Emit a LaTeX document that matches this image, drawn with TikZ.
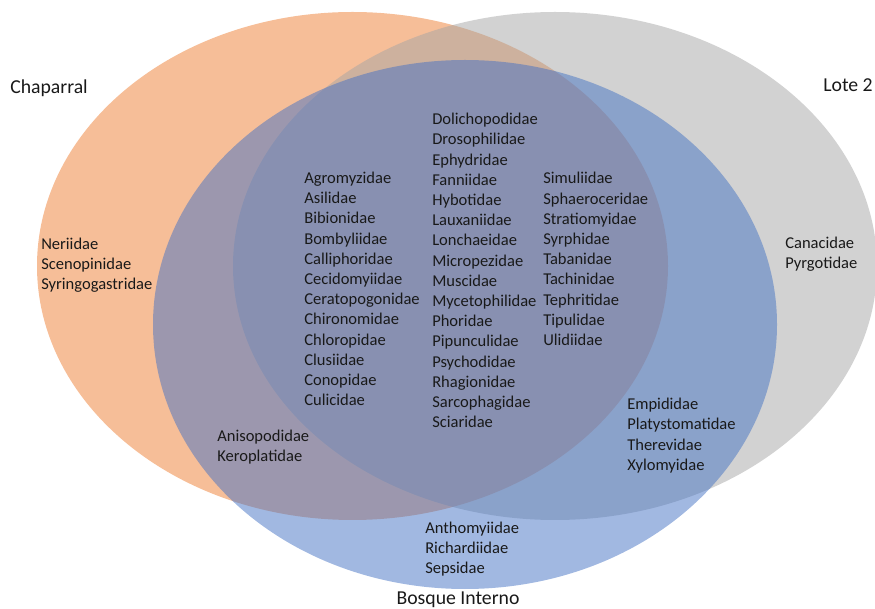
\documentclass[tikz,border=0pt]{standalone}
\usepackage{fontspec}
\setmainfont{Carlito}
\usepackage{xcolor}
\usepackage{tikz}
\definecolor{chaparral}{HTML}{ED7D31}
\definecolor{lote}{HTML}{A5A5A5}
\definecolor{bosque}{HTML}{4472C4}
\tikzset{
  setarea/.style={fill opacity=0.5},
  famlist/.style={anchor=west,align=left,inner sep=0pt,text=black!90,font=\fontsize{12.4}{15.15}\selectfont},
  setname/.style={inner sep=0pt,text=black!90,font=\fontsize{14.8}{17}\selectfont}
}

\begin{document}
\begin{tikzpicture}[x=0.75pt,y=-0.75pt]
        \useasboundingbox (0,0) rectangle (875,609);

        % the three sets
        \fill[chaparral,setarea] (352.5,266) ellipse (315.5 and 254);
        \fill[lote,setarea] (555,266) ellipse (322 and 254);
        \fill[bosque,setarea] (465,324.5) ellipse (312 and 264.5);

        % set names
        \node[setname,anchor=west] (chaparral) at (10,88) {Chaparral};
        \node[setname,anchor=east] (lote) at (873,85) {Lote 2};
        \node[setname] (bosque) at (458,600) {Bosque Interno};

        % only one set
        \node[famlist] (onlych) at (41,265) {Neriidae\\Scenopinidae\\Syringogastridae};
        \node[famlist] (onlylo) at (785,254) {Canacidae\\Pyrgotidae};
        \node[famlist] (onlybo) at (425,549) {Anthomyiidae\\Richardiidae\\Sepsidae};

        % two sets
        \node[famlist] (chbo) at (217,447) {Anisopodidae\\Keroplatidae};
        \node[famlist] (lobo) at (627,435.5) {Empididae\\Platystomatidae\\Therevidae\\Xylomyidae};

        % all three
        \node[famlist] (allA) at (304,289) {Agromyzidae\\Asilidae\\Bibionidae\\Bombyliidae\\Calliphoridae\\Cecidomyiidae\\Ceratopogonidae\\Chironomidae\\Chloropidae\\Clusiidae\\Conopidae\\Culicidae};
        \node[famlist] (allB) at (432,270.5) {Dolichopodidae\\Drosophilidae\\Ephydridae\\Fanniidae\\Hybotidae\\Lauxaniidae\\Lonchaeidae\\Micropezidae\\Muscidae\\Mycetophilidae\\Phoridae\\Pipunculidae\\Psychodidae\\Rhagionidae\\Sarcophagidae\\Sciaridae};
        \node[famlist] (allC) at (543,259) {Simuliidae\\Sphaeroceridae\\Stratiomyidae\\Syrphidae\\Tabanidae\\Tachinidae\\Tephritidae\\Tipulidae\\Ulidiidae};
\end{tikzpicture}
\end{document}
